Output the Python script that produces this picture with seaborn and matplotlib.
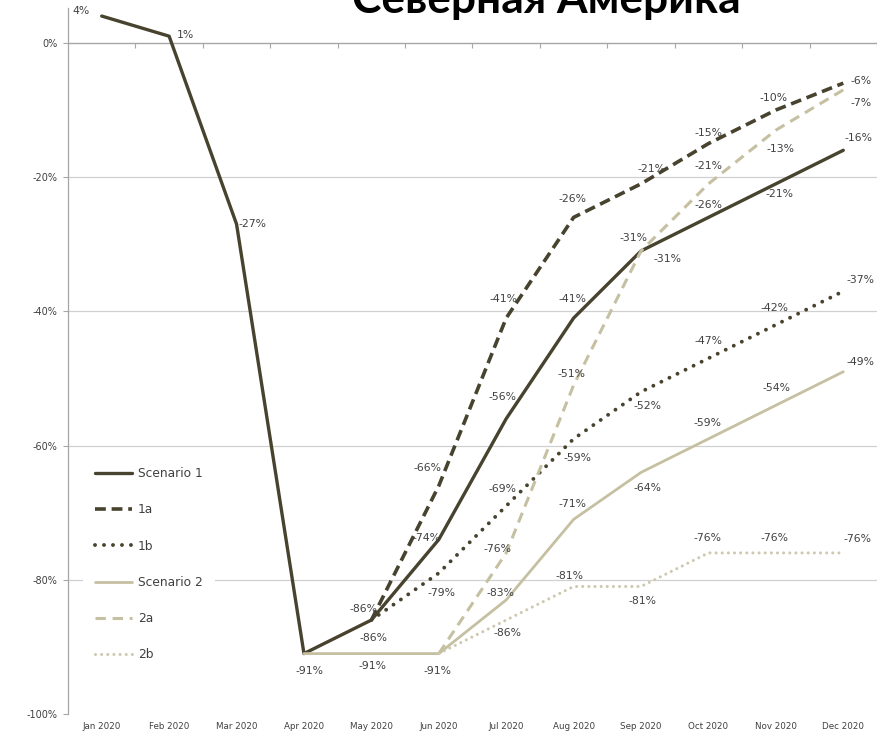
import numpy as np
import pandas as pd
import seaborn as sns
import matplotlib.pyplot as plt

nan = np.nan

months = ["Jan 2020", "Feb 2020", "Mar 2020", "Apr 2020", "May 2020", "Jun 2020",
          "Jul 2020", "Aug 2020", "Sep 2020", "Oct 2020", "Nov 2020", "Dec 2020"]

scenario_1 = [4, 1, -27, -91, -86, -74, -56, -41, -31, -26, -21, -16]
sc_1a = [nan, nan, nan, nan, -86, -66, -41, -26, -21, -15, -10, -6]
sc_1b = [nan, nan, nan, nan, -86, -79, -69, -59, -52, -47, -42, -37]
scenario_2 = [nan, nan, nan, -91, -91, -91, -83, -71, -64, -59, -54, -49]
sc_2a = [nan, nan, nan, nan, nan, -91, -76, -51, -31, -21, -13, -7]
sc_2b = [nan, nan, nan, nan, nan, -91, -86, -81, -81, -76, -76, -76]

series_names = ["Scenario 1", "1a", "1b", "Scenario 2", "2a", "2b"]
series_values = [scenario_1, sc_1a, sc_1b, scenario_2, sc_2a, sc_2b]

# label offsets in pixels (dx, dy up), None = no label
label_offsets = {
    "Scenario 1": [(-21, 5), (16, 1), (16, 0), (6, -17), (2, -18), (-12, 2),
                   (-4, 22), (-1, 19), (-8, 13), (0, 12), (4, -10), (15, 12)],
    "1a": [None, None, None, None, (-8, 11), (-11, 18),
           (-3, 19), (-1, 18), (10, 15), (0, 11), (-2, 12), (18, 2)],
    "1b": [None, None, None, None, None, (3, -20),
           (-4, 17), (4, -19), (6, -14), (0, 17), (-1, 17), (17, 11)],
    "Scenario 2": [None, None, None, None, (1, -12), (-1, -17),
                   (-6, 7), (-1, 15), (6, -16), (-1, 16), (1, 17), (17, 10)],
    "2a": [None, None, None, None, None, None,
           (-9, 4), (-2, 11), (26, -8), (0, 18), (5, -19), (18, -13)],
    "2b": [None, None, None, None, None, None,
           (1, -13), (-4, 10), (1, -15), (-1, 15), (-1, 15), (14, 14)],
}

dark = "#47432f"
light = "#c6c0a2"
styles = {
    "Scenario 1": dict(color=dark, lw=2.4, linestyle="-"),
    "1a": dict(color=dark, lw=2.6, linestyle=(0, (3.0, 1.6))),
    "1b": dict(color=dark, lw=2.8, linestyle=(0, (0.01, 2.3)), dash_capstyle="round"),
    "Scenario 2": dict(color=light, lw=2.0, linestyle="-"),
    "2a": dict(color=light, lw=2.2, linestyle=(0, (3.4, 2.2))),
    "2b": dict(color="#cdc8ae", lw=2.2, linestyle=(0, (0.01, 2.0)), dash_capstyle="round"),
}

rows = []
for name, vals in zip(series_names, series_values):
    for i, v in enumerate(vals):
        rows.append({"series": name, "pos": i, "month": months[i], "value": v})
df = pd.DataFrame(rows).dropna()

sns.set_style("white")
plt.rcParams["font.family"] = ["DejaVu Sans"]

fig = plt.figure(figsize=(8.81, 7.41), dpi=100)
ax = fig.add_axes([68 / 881, 1 - 714 / 741, (877 - 68) / 881, (714 - 8) / 741])

for name in series_names:
    d = df[df["series"] == name]
    sns.lineplot(data=d, x="pos", y="value", ax=ax, label=name, **styles[name])
    for _, r in d.iterrows():
        off = label_offsets[name][int(r["pos"])]
        if off is None:
            continue
        ax.annotate(f"{int(r['value'])}%", (r["pos"], r["value"]), xytext=off,
                    textcoords="offset pixels", ha="center", va="center",
                    fontsize=7.8, color="#404040", zorder=5)

ax.set_xlim(-0.5, len(months) - 0.5)
ax.set_ylim(-100, 5.2)
ax.set_xticks(range(len(months)))
ax.set_xticklabels(months, fontsize=6.3, color="#404040")
yt = np.arange(-100, 1, 20)
ax.set_yticks(yt)
ax.set_yticklabels([f"{t}%" for t in yt], fontsize=7, color="#404040")
ax.tick_params(axis="x", length=0, pad=6)
ax.tick_params(axis="y", length=3.5, width=0.8, color="#a6a6a6", pad=4, direction="out", left=True)
ax.set_xlabel("")
ax.set_ylabel("")

for s in ["top", "right", "bottom"]:
    ax.spines[s].set_visible(False)
ax.spines["left"].set_color("#a6a6a6")
ax.spines["left"].set_linewidth(0.9)

for t in yt[1:-1]:
    ax.axhline(t, color="#d0d0d0", lw=0.9, zorder=0)
ax.axhline(0, color="#a6a6a6", lw=1.0, zorder=1)
ax.vlines(np.arange(len(months)) + 0.5, -0.7, 0, color="#a6a6a6", lw=0.8, zorder=1)

leg = ax.legend(loc="upper left", bbox_to_anchor=(83 / 881, 1 - 455 / 741),
                bbox_transform=fig.transFigure, frameon=True, fontsize=8.8,
                handlelength=3.0, handletextpad=0.5, labelspacing=1.9,
                borderpad=1.0, borderaxespad=0)
leg.get_frame().set_facecolor("white")
leg.get_frame().set_edgecolor("none")
leg.get_frame().set_alpha(1)
for txt in leg.get_texts():
    txt.set_color("#404040")

# title is cut off at the top in the original; fit its width to ~387 px
title = fig.text(546 / 881, 1 - 13 / 741, "Северная Америка", ha="center", va="baseline",
                 fontsize=30, fontweight="bold", color="black", family="Lato")
fig.canvas.draw()
w = title.get_window_extent().width
title.set_fontsize(30 * 387 / w)

fig.savefig("out.png", dpi=100)
